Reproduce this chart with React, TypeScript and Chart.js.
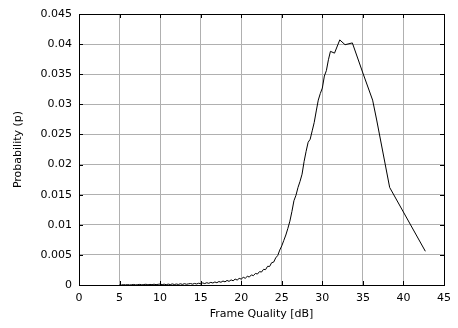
import React, { useEffect, useRef } from "react";
import { Chart, registerables } from "chart.js";

Chart.register(...registerables);

const qualityDb: number[] = [
  5.0, 5.25, 5.5, 5.75, 6.0, 6.25, 6.5, 6.75, 7.0, 7.25, 7.5, 7.75,
  8.0, 8.25, 8.5, 8.75, 9.0, 9.25, 9.5, 9.75, 10.0, 10.25, 10.5, 10.75,
  11.0, 11.25, 11.5, 11.75, 12.0, 12.25, 12.5, 12.75, 13.0, 13.25, 13.5, 13.75,
  14.0, 14.25, 14.5, 14.75, 15.0, 15.25, 15.5, 15.75, 16.0, 16.25, 16.5, 16.75,
  17.0, 17.25, 17.5, 17.75, 18.0, 18.25, 18.5, 18.75, 19.0, 19.25, 19.5, 19.75,
  20.0, 20.25, 20.5, 20.75, 21.0, 21.25, 21.5, 21.75, 22.0, 22.25, 22.5, 22.75,
  23.0, 23.25, 23.5, 23.75, 24.0, 24.25, 24.5, 24.75, 25.0, 25.25, 25.5, 25.75,
  26.0, 26.25, 26.5, 26.75, 27.0, 27.25, 27.5, 27.75, 28.0, 28.25, 28.5, 28.75,
  29.0, 29.25, 29.5, 29.75, 30.0, 30.25, 30.5, 30.75, 31.0, 31.5, 32.15, 32.8,
  33.7, 35.0, 36.2, 36.7, 38.3, 42.7,
];

const probability: number[] = [
  0.00005, 0.00001, 0.00006, 0.00002, 0.00007, 0.00001, 0.00005, 0.00009, 0.00002, 0.00006, 0.0001, 0.00003,
  0.00008, 0.00012, 0.00004, 0.0001, 0.00005, 0.00013, 0.00006, 0.00011, 0.00016, 0.00006, 0.00014, 0.00005,
  0.00015, 0.00007, 0.00018, 0.00008, 0.00016, 0.00009, 0.0002, 0.0001, 0.00022, 0.00012, 0.00019, 0.00024,
  0.00014, 0.00026, 0.00017, 0.00029, 0.00022, 0.00034, 0.00024, 0.00038, 0.00028, 0.00044, 0.00033, 0.0005,
  0.00038, 0.00058, 0.00045, 0.00066, 0.00052, 0.00076, 0.0006, 0.00085, 0.0007, 0.00098, 0.00082, 0.0011,
  0.00098, 0.00128, 0.00112, 0.00145, 0.00132, 0.00168, 0.00155, 0.00192, 0.00182, 0.00222, 0.00215, 0.0026,
  0.00255, 0.0031, 0.00308, 0.0037, 0.0038, 0.0045, 0.0049, 0.0058, 0.0065, 0.0074, 0.0083, 0.0094,
  0.0106, 0.0122, 0.014, 0.0149, 0.0162, 0.0172, 0.0184, 0.0205, 0.0222, 0.0237, 0.0242, 0.0256,
  0.027, 0.0289, 0.0307, 0.0318, 0.0327, 0.0347, 0.0356, 0.0374, 0.0388, 0.0385, 0.0407, 0.0399,
  0.0402, 0.0352, 0.0307, 0.0274, 0.0162, 0.0056,
];

const xTicks: number[] = [0, 5, 10, 15, 20, 25, 30, 35, 40, 45];
const yTicks: number[] = [0, 0.005, 0.01, 0.015, 0.02, 0.025, 0.03, 0.035, 0.04, 0.045];
const yTickLabels: string[] = ["0", "0.005", "0.01", "0.015", "0.02", "0.025", "0.03", "0.035", "0.04", "0.045"];

const FONT = "'DejaVu Sans', sans-serif";

const frameTicks = {
  id: "frameTicks",
  afterDraw(chart: any) {
    const { ctx, chartArea, scales } = chart;
    const { left, right, top, bottom } = chartArea;
    const len = 4;
    ctx.save();
    ctx.strokeStyle = "#000";
    ctx.lineWidth = 1;
    ctx.beginPath();
    for (const v of xTicks) {
      const px = Math.round(scales.x.getPixelForValue(v)) + 0.5;
      ctx.moveTo(px, bottom);
      ctx.lineTo(px, bottom - len);
      ctx.moveTo(px, top);
      ctx.lineTo(px, top + len);
    }
    for (const v of yTicks) {
      const py = Math.round(scales.y.getPixelForValue(v)) + 0.5;
      ctx.moveTo(left, py);
      ctx.lineTo(left + len, py);
      ctx.moveTo(right, py);
      ctx.lineTo(right - len, py);
    }
    ctx.stroke();
    ctx.strokeRect(Math.round(left) + 0.5, Math.round(top) + 0.5, Math.round(right - left), Math.round(bottom - top));
    ctx.restore();
  },
};

export default function App() {
  const ref = useRef<HTMLCanvasElement | null>(null);

  useEffect(() => {
    if (!ref.current) return;
    const points = qualityDb.map((x, i) => ({ x, y: probability[i] }));
    const chart = new Chart(ref.current, {
      type: "line",
      data: {
        datasets: [
          {
            data: points,
            borderColor: "#000",
            borderWidth: 1,
            pointRadius: 0,
            tension: 0,
            fill: false,
          },
        ],
      },
      options: {
        responsive: false,
        animation: false,
        layout: { padding: { top: 14, right: 9, left: 0, bottom: 0 } },
        plugins: { legend: { display: false }, tooltip: { enabled: false } },
        scales: {
          x: {
            type: "linear",
            min: 0,
            max: 45,
            afterBuildTicks: (scale: any) => {
              scale.ticks = xTicks.map((v) => ({ value: v }));
            },
            afterFit: (scale: any) => {
              scale.height = 43;
            },
            ticks: {
              autoSkip: false,
              maxRotation: 0,
              padding: 7,
              color: "#000",
              font: { family: FONT, size: 11 },
              callback: (v: any) => String(v),
            },
            grid: { color: "#b0b0b0", lineWidth: 1, drawTicks: false },
            border: { display: false },
            title: {
              display: true,
              text: "Frame Quality [dB]",
              color: "#000",
              font: { family: FONT, size: 11 },
              padding: { top: 0, bottom: 7 },
            },
          },
          y: {
            type: "linear",
            min: 0,
            max: 0.045,
            afterBuildTicks: (scale: any) => {
              scale.ticks = yTicks.map((v) => ({ value: v }));
            },
            afterFit: (scale: any) => {
              scale.width = 79;
            },
            ticks: {
              autoSkip: false,
              padding: 7,
              color: "#000",
              font: { family: FONT, size: 11 },
              callback: (_v: any, i: number) => yTickLabels[i],
            },
            grid: { color: "#b0b0b0", lineWidth: 1, drawTicks: false },
            border: { display: false },
            title: {
              display: true,
              text: "Probability (p)",
              color: "#000",
              font: { family: FONT, size: 11 },
              padding: { top: 12, bottom: 0 },
            },
          },
        },
      },
      plugins: [frameTicks],
    });
    return () => chart.destroy();
  }, []);

  return (
    <div style={{ position: "fixed", left: 0, top: 0, width: 458, height: 328, background: "#fff" }}>
      <canvas ref={ref} width={458} height={328} style={{ display: "block", width: 458, height: 328 }} />
    </div>
  );
}
